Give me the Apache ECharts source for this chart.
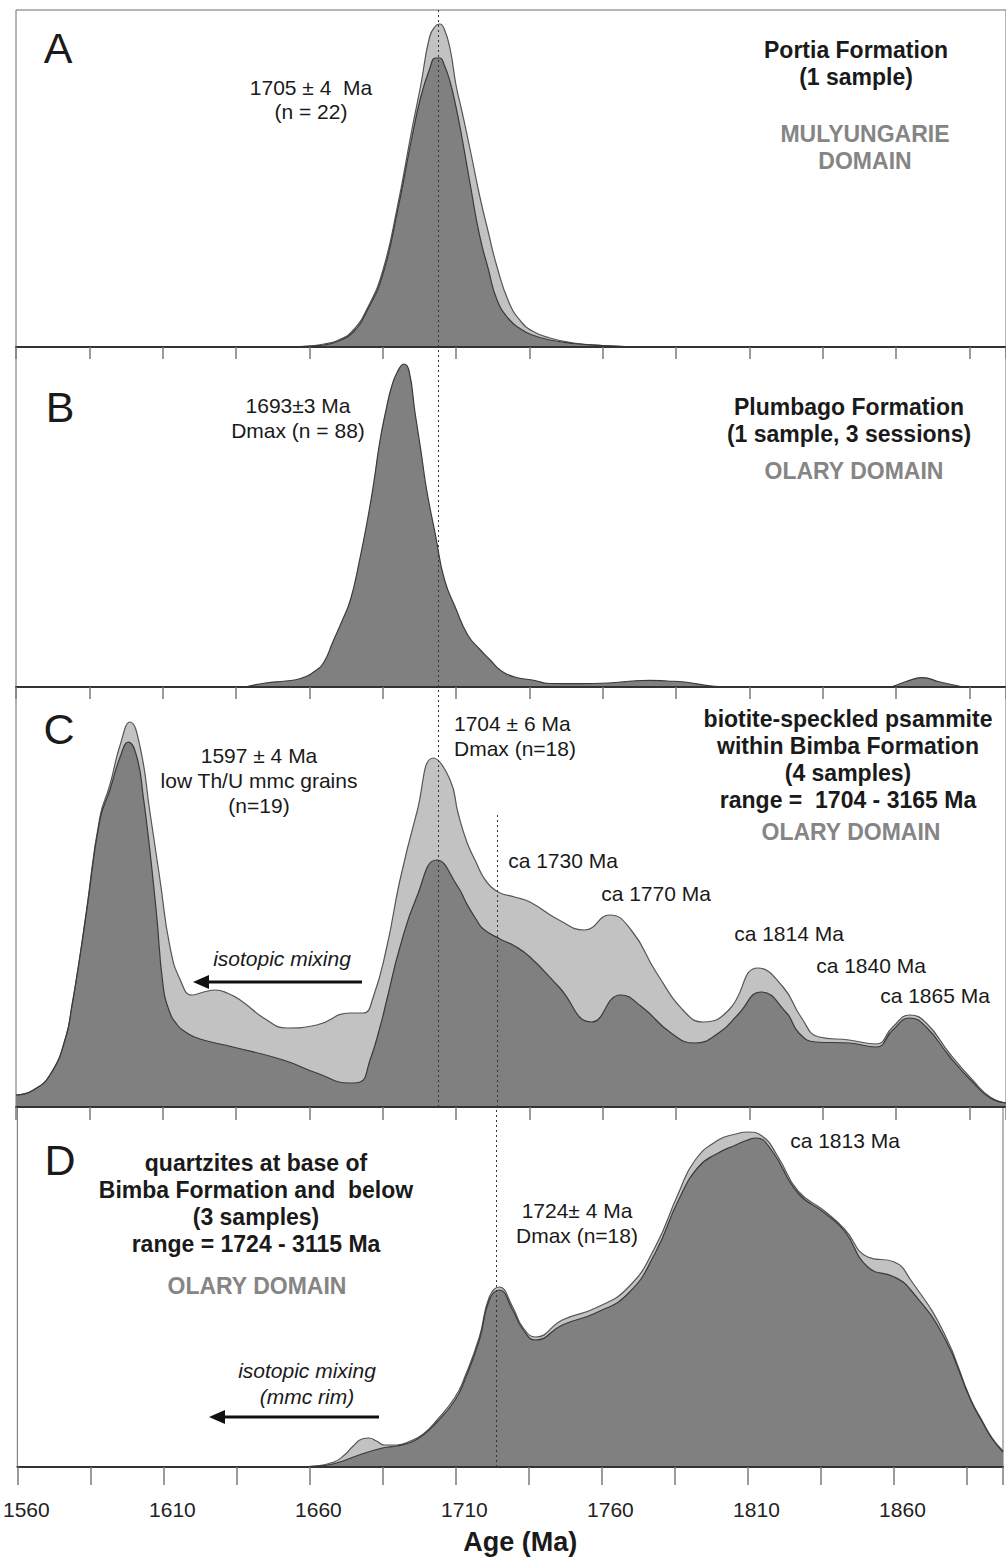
<!DOCTYPE html>
<html>
<head>
<meta charset="utf-8">
<title>Detrital zircon age spectra</title>
<script src="https://cdn.jsdelivr.net/npm/echarts@6/dist/echarts.min.js"></script>
<style>
  html, body { margin: 0; padding: 0; background: #ffffff; }
  #chart { width: 1006px; height: 1557px; }
</style>
</head>
<body>
<div id="chart"></div>
<script>
// ---- Age axis (Ma) ----
const ageMin = 1560;
const ageMax = 1897.5;
const tickStep = 25;
const labelStep = 50;

// ---- A: Portia Formation (relative probability, [age, value]) ----
const portiaAll = [
  [1640, 0], [1655, 0.3], [1660, 1], [1665, 3], [1670, 7], [1675, 17], [1680, 40], [1685, 76],
  [1690, 140], [1695, 218], [1698, 262], [1701, 310], [1703, 321], [1704.5, 323], [1706, 318],
  [1708, 298], [1710, 262], [1712, 236], [1715, 195], [1718, 152], [1721, 115], [1724, 80],
  [1728, 45], [1732, 26], [1736, 16], [1742, 9], [1750, 4], [1760, 1.5], [1775, 0]
];
const portiaMain = [
  [1640, 0], [1655, 0.3], [1660, 1], [1665, 2], [1670, 6], [1675, 15], [1680, 38], [1685, 72],
  [1690, 135], [1695, 210], [1698, 250], [1701, 278], [1703, 289], [1704.5, 289], [1706, 282],
  [1708, 265], [1710, 240], [1712, 210], [1715, 160], [1718, 112], [1721, 78], [1724, 47],
  [1728, 28], [1732, 18], [1736, 12], [1742, 7], [1750, 3.5], [1760, 1.5], [1775, 0]
];

// ---- B: Plumbago Formation ----
const plumbago = [
  [1638, 0], [1645, 4], [1652, 6], [1657, 8.5], [1662, 16], [1665, 25], [1668, 45], [1671, 65],
  [1674, 87], [1677, 125], [1680, 170], [1682, 205], [1684, 245], [1686, 275], [1688, 300],
  [1690, 315], [1692.3, 323], [1694, 316], [1696, 275], [1698, 237], [1700, 197], [1703, 152],
  [1706, 108], [1710, 78], [1714, 52], [1718, 38], [1722, 26], [1725, 17], [1730, 10], [1736, 7],
  [1742, 3.5], [1752, 3.4], [1762, 4], [1770, 6], [1776, 6.7], [1782, 6], [1788, 5], [1798, 0.7],
  [1805, 0], [1850, 0], [1857, 0], [1863, 5], [1869, 9.4], [1875, 5], [1883, 0]
];

// ---- C: biotite-speckled psammite, Bimba Formation ----
const psammiteAll = [
  [1560, 12], [1566, 17], [1572, 34], [1577, 70], [1579, 100], [1581.5, 145], [1584, 196],
  [1588.6, 290], [1592, 322], [1595.5, 362], [1598.9, 385], [1602.3, 360], [1605.7, 294],
  [1609.1, 227], [1612.5, 160], [1616, 127], [1620, 112], [1624, 115], [1628, 117], [1632, 114],
  [1636.4, 107], [1645.5, 87], [1652.3, 79], [1662.5, 82], [1673.9, 94], [1678.4, 94],
  [1681.8, 110], [1686.4, 160], [1690.9, 227], [1696.6, 294], [1702.3, 349], [1708, 327],
  [1710.7, 294], [1713.7, 265], [1716.8, 245], [1719.3, 230], [1722, 220], [1725, 214],
  [1730, 210], [1735.2, 205], [1745.1, 187], [1753.8, 177], [1762.4, 192], [1769.7, 177],
  [1778.4, 134], [1788.3, 94], [1794.4, 85], [1803, 97], [1812.9, 139], [1821.5, 120],
  [1827.6, 90], [1833.8, 70], [1844, 67], [1853.2, 63], [1858.9, 80], [1864.6, 92],
  [1870.3, 84], [1878.4, 53], [1886.4, 26], [1892.1, 10], [1897.5, 4]
];
const psammiteMain = [
  [1560, 12], [1566, 17], [1572, 34], [1577, 70], [1579, 100], [1581.5, 145], [1584, 194],
  [1588.6, 287], [1592, 317], [1595.5, 350], [1598.3, 365], [1601.2, 350], [1603.4, 310],
  [1605.7, 255], [1608, 190], [1610, 125], [1612, 98], [1615, 82], [1618.3, 74], [1622.7, 68],
  [1634, 60], [1651.1, 47], [1662.5, 34], [1673.9, 24], [1677.3, 25], [1680.7, 47], [1684.1, 80],
  [1686.4, 107], [1690.9, 160], [1696.6, 210], [1703.4, 247], [1710.7, 220], [1713.7, 203],
  [1716.8, 188], [1719.3, 178], [1725, 168], [1730, 161], [1735.2, 150], [1745.1, 120],
  [1756.2, 85], [1766.1, 112], [1773.4, 100], [1783.3, 74], [1791.4, 64], [1800, 75],
  [1806, 92], [1814, 115], [1822.7, 94], [1826.9, 74], [1832.6, 65], [1844, 64], [1853.2, 60],
  [1858.9, 77], [1864.6, 89], [1870.3, 80], [1878.4, 50], [1886.4, 24], [1892.1, 9], [1897.5, 4]
];

// ---- D: quartzites at base of Bimba Formation and below ----
const quartziteAll = [
  [1655, 0], [1662, 1], [1668.4, 5], [1672, 12], [1675, 21], [1678, 28], [1680.4, 29], [1683, 26],
  [1685.8, 22], [1690, 22], [1694.6, 26], [1699, 33], [1703.4, 46], [1709.9, 70], [1713.2, 90],
  [1718.2, 130], [1721.6, 170], [1725, 180], [1729.6, 160], [1733, 140], [1737.5, 130],
  [1746.6, 147], [1758, 159], [1769.3, 180], [1778.4, 220], [1786.4, 274], [1792.1, 307],
  [1800, 327], [1806, 333], [1810, 335], [1815, 331], [1820.5, 310], [1827.3, 276],
  [1836.4, 256], [1843.2, 238], [1851.2, 210], [1860.3, 205], [1865.9, 187], [1877.3, 134],
  [1886.4, 68], [1890.4, 46], [1893.8, 29], [1897.5, 16]
];
const quartziteMain = [
  [1655, 0], [1660, 0.5], [1668, 3], [1677, 12], [1685, 19], [1690, 21], [1695, 25], [1699, 32],
  [1703.4, 44], [1709.9, 67], [1713.2, 87], [1718.2, 127], [1721.6, 167], [1725, 177],
  [1729.6, 157], [1733, 138], [1737.5, 127], [1746.6, 142], [1758, 154], [1769.3, 174],
  [1778.4, 214], [1786.4, 267], [1793.2, 300], [1800, 314], [1806, 322], [1810, 327],
  [1813, 329], [1818.2, 317], [1827.3, 274], [1836.4, 254], [1843.2, 236], [1851.2, 200],
  [1860.3, 190], [1865.9, 177], [1877.3, 130], [1886.4, 67], [1890.4, 45], [1893.8, 28],
  [1897.5, 15]
];

// Maximum depositional ages marked by dotted reference lines
const dmaxPsammite = 1704;
const dmaxQuartzite = 1724;
const quartziteLineTopC = 292;   // where the 1724 Ma guide starts inside panel C

// ---- styling ----
const FONT = '"Liberation Sans", Arial, Helvetica, sans-serif';
const INK = '#1a1a1a';
const DOMAIN_GREY = '#858585';
const DARK_FILL = '#808080';
const LIGHT_FILL = '#c2c2c2';

// panel frames (top / height in px) and the y range of each panel
const panels = [
  { top: 10,   height: 337, yMax: 337, tick: 12 },
  { top: 347,  height: 340, yMax: 340, tick: 12 },
  { top: 687,  height: 420, yMax: 420, tick: 13 },
  { top: 1107, height: 360, yMax: 360, tick: 18 }
];

const grids = panels.map(p => ({
  left: 16, right: 0, top: p.top, height: p.height,
  show: true, borderColor: '#6c6c6c', borderWidth: 1, backgroundColor: 'transparent'
}));

const xAxes = panels.map((p, i) => ({
  type: 'value', gridIndex: i, min: ageMin, max: ageMax, interval: tickStep,
  axisLine: { show: true, onZero: false, lineStyle: { color: '#333333', width: 2 } },
  axisTick: { show: true, inside: false, length: p.tick, lineStyle: { color: '#7a7a7a', width: 1.5 } },
  axisLabel: {
    show: i === panels.length - 1,
    formatter: v => ((v - ageMin) % labelStep === 0 ? String(v) : ''),
    fontFamily: FONT, fontSize: 21, color: '#222222', margin: 32, padding: [0, 0, 0, 18]
  },
  splitLine: { show: false },
  name: i === panels.length - 1 ? 'Age (Ma)' : '',
  nameLocation: 'middle', nameGap: 61,
  nameTextStyle: { fontFamily: FONT, fontSize: 27, fontWeight: 'bold', color: INK, padding: [0, 0, 0, 20] },
  z: 4
}));

const yAxes = panels.map((p, i) => ({
  type: 'value', gridIndex: i, min: 0, max: p.yMax, show: false
}));

const dotted = { type: [2, 3], color: '#333333', width: 1 };

function curve(i, data, fill, stroke, lines) {
  const s = {
    type: 'line', xAxisIndex: i, yAxisIndex: i, data,
    smooth: 0.5, symbol: 'none', silent: true,
    lineStyle: { color: stroke, width: 1.2 },
    areaStyle: { color: fill, opacity: 1 }
  };
  if (lines) {
    s.markLine = { silent: true, symbol: 'none', label: { show: false }, lineStyle: dotted, data: lines };
  }
  return s;
}

const series = [
  curve(0, portiaAll, LIGHT_FILL, '#555555'),
  curve(0, portiaMain, DARK_FILL, '#3a3a3a', [{ xAxis: dmaxPsammite }]),
  curve(1, plumbago, DARK_FILL, '#3a3a3a', [{ xAxis: dmaxPsammite }]),
  curve(2, psammiteAll, LIGHT_FILL, '#555555'),
  curve(2, psammiteMain, DARK_FILL, '#3a3a3a', [
    { xAxis: dmaxPsammite },
    [{ coord: [dmaxQuartzite, quartziteLineTopC] }, { coord: [dmaxQuartzite, 0] }]
  ]),
  curve(3, quartziteAll, LIGHT_FILL, '#555555'),
  curve(3, quartziteMain, DARK_FILL, '#3a3a3a', [{ xAxis: dmaxQuartzite }])
];

// ---- text annotations ----
function text(x, y, lines, o) {
  o = o || {};
  const lh = o.lh || 25;
  const n = lines.length;
  return {
    type: 'text', z: 100, silent: true,
    x: x, y: y + (n - 1) * lh / 2,
    style: {
      text: lines.join('\n'),
      font: (o.italic ? 'italic ' : '') + (o.bold ? 'bold ' : '') + (o.size || 21) + 'px ' + FONT,
      fill: o.color || INK,
      align: o.align || 'center',
      verticalAlign: 'middle',
      lineHeight: lh
    }
  };
}
function arrow(x1, x2, y) {
  return [
    { type: 'line', z: 100, silent: true, shape: { x1: x1, y1: y, x2: x2 + 12, y2: y },
      style: { stroke: '#111111', lineWidth: 3 } },
    { type: 'polygon', z: 100, silent: true,
      shape: { points: [[x2, y], [x2 + 16, y - 7], [x2 + 16, y + 7]] },
      style: { fill: '#111111' } }
  ];
}

const big = { size: 43 };
const head = { bold: true, size: 23, lh: 27 };
const domain = { bold: true, size: 23, lh: 27, color: DOMAIN_GREY };

const graphics = [
  // A
  text(58, 48, ['A'], big),
  text(311, 87, ['1705 ± 4  Ma', '(n = 22)'], { lh: 24 }),
  text(856, 50, ['Portia Formation', '(1 sample)'], head),
  text(865, 134, ['MULYUNGARIE', 'DOMAIN'], domain),
  // B
  text(60, 407, ['B'], big),
  text(298, 405, ['1693±3 Ma', 'Dmax (n = 88)']),
  text(849, 407, ['Plumbago Formation', '(1 sample, 3 sessions)'], head),
  text(854, 471, ['OLARY DOMAIN'], domain),
  // C
  text(59, 729, ['C'], big),
  text(259, 755, ['1597 ± 4 Ma', 'low Th/U mmc grains', '(n=19)']),
  text(454, 723, ['1704 ± 6 Ma', 'Dmax (n=18)'], { align: 'left' }),
  text(848, 719, ['biotite-speckled psammite', 'within Bimba Formation', '(4 samples)', 'range =  1704 - 3165 Ma'], head),
  text(851, 832, ['OLARY DOMAIN'], domain),
  text(563, 860, ['ca 1730 Ma']),
  text(656, 893, ['ca 1770 Ma']),
  text(789, 933, ['ca 1814 Ma']),
  text(871, 965, ['ca 1840 Ma']),
  text(935, 995, ['ca 1865 Ma']),
  text(282, 958, ['isotopic mixing'], { italic: true }),
  ...arrow(362, 193, 982),
  // D
  text(60, 1160, ['D'], big),
  text(256, 1163, ['quartzites at base of', 'Bimba Formation and  below', '(3 samples)', 'range = 1724 - 3115 Ma'], head),
  text(257, 1286, ['OLARY DOMAIN'], domain),
  text(845, 1140, ['ca 1813 Ma']),
  text(577, 1210, ['1724± 4 Ma', 'Dmax (n=18)']),
  text(307, 1370, ['isotopic mixing', '(mmc rim)'], { italic: true, lh: 26 }),
  ...arrow(379, 209, 1417)
];

const chart = echarts.init(document.getElementById('chart'), null, { renderer: 'svg', width: 1006, height: 1557 });
chart.setOption({
  animation: false,
  backgroundColor: '#ffffff',
  textStyle: { fontFamily: FONT },
  grid: grids,
  xAxis: xAxes,
  yAxis: yAxes,
  series: series,
  graphic: graphics
});
</script>
</body>
</html>
